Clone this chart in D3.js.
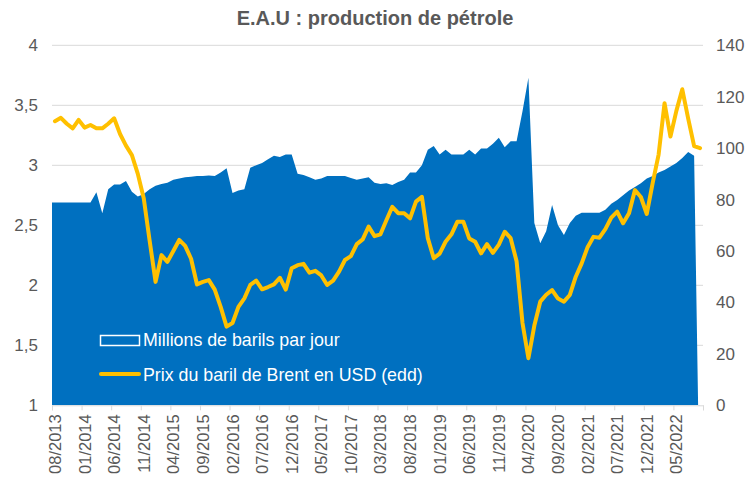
<!DOCTYPE html>
<html><head><meta charset="utf-8">
<script src="https://cdn.jsdelivr.net/npm/d3@7"></script>
<style>
html,body{margin:0;padding:0;background:#fff;}
svg{display:block;font-family:"Liberation Sans",Arial,sans-serif;}
</style></head>
<body>
<svg id="chart" width="749" height="480"></svg>
<script>
// ---- data ----
const title = "E.A.U : production de pétrole";
const startMonth = "2013-08";
const nMonths = 110; // 08/2013 .. 09/2022
const tickLabels = ["08/2013","01/2014","06/2014","11/2014","04/2015","09/2015","02/2016","07/2016","12/2016","05/2017","10/2017","03/2018","08/2018","01/2019","06/2019","11/2019","04/2020","09/2020","02/2021","07/2021","12/2021","05/2022"];
const production = [2.69,2.69,2.69,2.69,2.69,2.69,2.69,2.775,2.60,2.80,
 2.84,2.84,2.87,2.78,2.74,2.76,2.80,2.83,2.845,2.855,
 2.88,2.89,2.90,2.905,2.91,2.91,2.915,2.91,2.94,2.975,
 2.77,2.79,2.80,2.98,3.00,3.02,3.05,3.08,3.07,3.09,
 3.09,2.93,2.92,2.90,2.88,2.89,2.91,2.91,2.91,2.91,
 2.895,2.88,2.89,2.90,2.855,2.845,2.85,2.835,2.86,2.88,
 2.94,2.94,3.00,3.13,3.16,3.09,3.13,3.09,3.09,3.09,
 3.13,3.09,3.14,3.14,3.18,3.23,3.15,3.20,3.20,3.45,
 3.73,2.52,2.35,2.45,2.67,2.50,2.42,2.52,2.58,2.605,
 2.605,2.605,2.605,2.63,2.68,2.71,2.75,2.79,2.82,2.85,
 2.89,2.91,2.94,2.96,2.99,3.02,3.06,3.11,3.08,0];
const brent = [110.5,111.8,109.5,107.7,111,108,109,107.7,107.7,109.5,
 111.6,105.5,101,97.3,90,80.5,64,48,58.4,55.8,
 60,64.3,62,57,47,48,48.7,45,38.3,30.6,
 32,38.3,41.6,46.8,48.5,45.1,46,47,49.6,45,
 53.3,54.5,55,51.6,52.3,50.5,46.8,48.5,52,56.5,
 58,62.7,64.5,69.5,65.8,66.5,72,77.2,74.7,74.7,
 72.7,79.2,81.1,65,57.2,59,63.6,66.5,71.4,71.4,
 64.9,63.6,59.1,62.7,59.3,62.5,67.5,65,56,32,
 18.3,31,40.3,43,44.8,41.5,40.3,42.9,50,55.2,
 61.5,65.5,65.2,68.5,73,75.3,70.8,74.7,83.7,81,
 74.4,86.5,97.5,117.5,104.5,114.5,122.9,111.5,100.8,100];
const leftTicks = [1,1.5,2,2.5,3,3.5,4];
const rightTicks = [0,20,40,60,80,100,120,140];
const legendLabels = ["Millions de barils par jour","Prix du baril de Brent en USD (edd)"];

// ---- layout ----
const svg = d3.select("#chart");
const L = 52, R = 703, T = 45.3, B = 405.3;
const textCol = "#595959", gridCol = "#D9D9D9";
const areaCol = "#0070C0", lineCol = "#FFC000";

const x = d3.scaleLinear().domain([0, nMonths]).range([L, R]);
const yL = d3.scaleLinear().domain([1, 4]).range([B, T]).clamp(true);
const yR = d3.scaleLinear().domain([0, 140]).range([B, T]);

// title
svg.append("text").attr("x", 375).attr("y", 25).attr("text-anchor", "middle")
  .attr("font-size", 20).attr("font-weight", "bold").attr("fill", textCol).text(title);

// gridlines
svg.append("g").selectAll("line").data(leftTicks.slice(1)).join("line")
  .attr("x1", L).attr("x2", R).attr("y1", d => yL(d)).attr("y2", d => yL(d))
  .attr("stroke", gridCol).attr("stroke-width", 1);

// clip
svg.append("clipPath").attr("id", "plotclip").append("rect")
  .attr("x", L).attr("y", T).attr("width", R - L).attr("height", B - T);

// area (Excel-like: extended to left edge)
const areaData = [{p: 0, v: production[0]}].concat(production.map((v, i) => ({p: i + 0.5, v})));
const yRaw = d3.scaleLinear().domain([1, 4]).range([B, T]);
const area = d3.area().x(d => x(d.p)).y0(B).y1(d => yRaw(d.v));
svg.append("path").attr("clip-path", "url(#plotclip)").datum(areaData)
  .attr("d", area).attr("fill", areaCol);

// x axis line + ticks
const xAxis = d3.axisBottom(x).tickValues(d3.range(0, nMonths + 1, 5)).tickSize(5).tickFormat("");
const gx = svg.append("g").attr("transform", `translate(0,${B})`).call(xAxis);
gx.select(".domain").attr("stroke", gridCol);
gx.selectAll(".tick line").attr("stroke", gridCol);

// x labels
svg.append("g").selectAll("text").data(tickLabels).join("text")
  .attr("transform", (d, k) => `translate(${x(k * 5 + 0.5) + 6},${B + 9}) rotate(-90)`)
  .attr("text-anchor", "end").attr("font-size", 16.5).attr("fill", textCol).text(d => d);

// line
const line = d3.line().x((d, i) => x(i + 0.5)).y(d => yR(d));
svg.append("path").datum(brent).attr("d", line).attr("fill", "none")
  .attr("stroke", lineCol).attr("stroke-width", 4)
  .attr("stroke-linejoin", "round").attr("stroke-linecap", "round");

// left axis labels
const fmt = d => String(d).replace(".", ",");
svg.append("g").selectAll("text").data(leftTicks).join("text")
  .attr("x", 38).attr("y", d => yL(d) + 6).attr("text-anchor", "end")
  .attr("font-size", 17).attr("fill", textCol).text(fmt);

// right axis labels
svg.append("g").selectAll("text").data(rightTicks).join("text")
  .attr("x", 716).attr("y", d => yR(d) + 6).attr("text-anchor", "start")
  .attr("font-size", 17).attr("fill", textCol).text(d => d);

// legend
const lg = svg.append("g");
lg.append("rect").attr("x", 100.5).attr("y", 335.5).attr("width", 39).attr("height", 10)
  .attr("fill", areaCol).attr("stroke", "#fff").attr("stroke-width", 1.5);
lg.append("line").attr("x1", 101).attr("x2", 139).attr("y1", 374).attr("y2", 374)
  .attr("stroke", lineCol).attr("stroke-width", 4).attr("stroke-linecap", "round");
lg.selectAll("text").data(legendLabels).join("text")
  .attr("x", 143).attr("y", (d, i) => 346 + i * 34.5)
  .attr("font-size", 17.8).attr("fill", "#fff").text(d => d);
</script>
</body></html>
